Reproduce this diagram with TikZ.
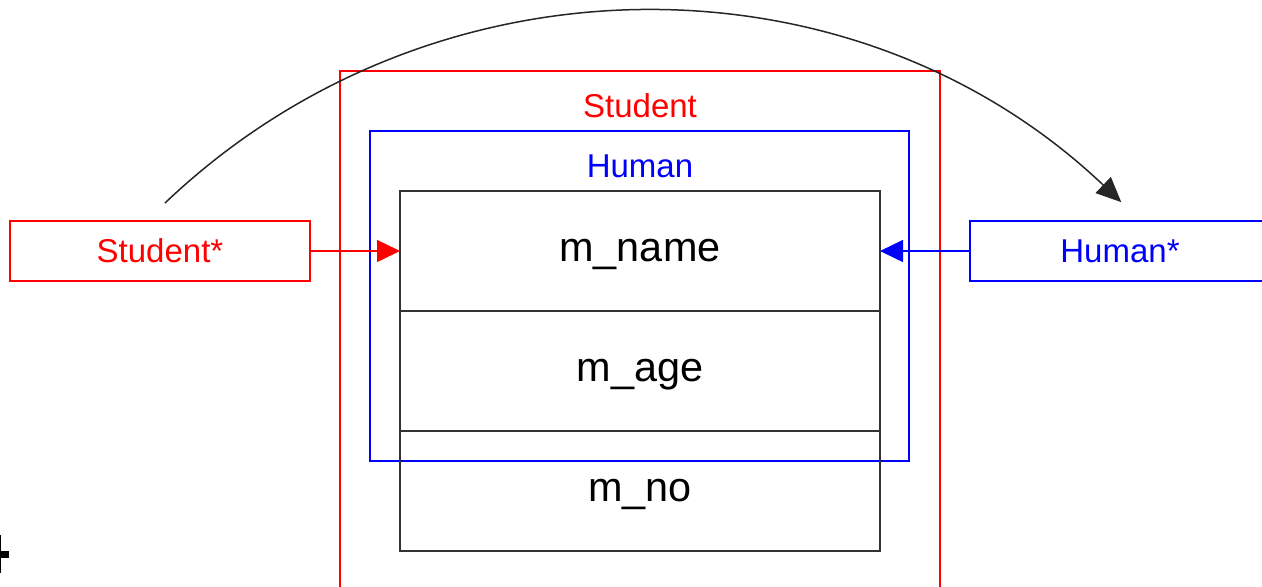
\documentclass[tikz,border=0pt]{standalone}
\usepackage{fontspec}
\setmainfont{Liberation Sans}
\usetikzlibrary{positioning,arrows.meta}
\definecolor{sred}{RGB}{255,0,0}
\definecolor{hblue}{RGB}{0,0,255}

\begin{document}
\begin{tikzpicture}[x=0.5pt,y=0.5pt,>={Triangle[length=11.5pt,width=11pt]},
  cell/.style={draw=black!80,line width=1pt,outer sep=0pt,inner sep=0pt,minimum width=240pt,minimum height=60pt,text height=10.8pt,text depth=0pt,font=\fontsize{20.7}{24}\selectfont},
  ptr/.style={line width=0.75pt,outer sep=0pt,inner sep=0pt,minimum width=150pt,minimum height=30pt,font=\fontsize{16.5}{20}\selectfont},
  title/.style={inner sep=0pt,font=\fontsize{16.5}{20}\selectfont}]
\useasboundingbox (0,0) rectangle (1262,-586);
\clip (0,0) rectangle (1262,-586);
% Student object, runs off the bottom
\draw[sred,line width=0.75pt] (340,-600) |- (940,-71) -- (940,-600);
\node[title,text=sred] (stuTitle) at (640,-106) {Student};
\draw[hblue,line width=0.75pt] (370,-131) rectangle (909,-461);
\node[title,text=hblue] (humTitle) at (640,-166) {Human};
\node[cell] (name) at (640,-251) {m\_name};
\node[cell,below=0pt of name] (age) {m\_age};
\node[cell,below=0pt of age] (no) {m\_no};
% pointers
\node[ptr,draw=sred,text=sred] (stuPtr) at (160,-251) {Student*};
\node[ptr,draw=hblue,text=hblue] (humPtr) at (1120,-251) {Human*};
\draw[->,sred,line width=0.75pt] (stuPtr) -- (name);
\draw[->,hblue,line width=0.75pt] (humPtr) -- (name);
\coordinate (arcFrom) at (165,-203);
\draw[-{Triangle[length=12.5pt,width=11pt]},black!85,line width=0.75pt] (arcFrom) arc[start angle=133.6,end angle=46.5,radius=694];
% cut-off mark at the left edge
\draw[line width=0.8pt] (0.5,-535) -- (0.5,-573);
\fill (0,-551) rectangle (9,-558);
\end{tikzpicture}
\end{document}
